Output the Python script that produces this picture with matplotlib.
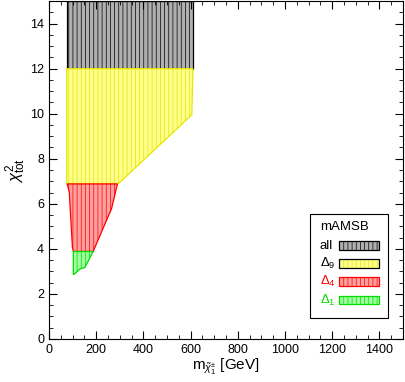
import matplotlib.pyplot as plt
from matplotlib.patches import Polygon, Rectangle
from matplotlib.ticker import MultipleLocator

plt.rcParams['font.family'] = ['Liberation Sans', 'DejaVu Sans']
plt.rcParams['mathtext.fontset'] = 'custom'
plt.rcParams['mathtext.rm'] = 'Liberation Sans'
plt.rcParams['mathtext.it'] = 'Liberation Sans:italic'
plt.rcParams['hatch.linewidth'] = 0.5

# region boundaries (chargino mass [GeV], chi2_tot)
all_x = [75, 610, 610, 75]
all_y = [12.0, 12.0, 15.0, 15.0]

d9_x = [75, 295, 605, 610, 75]
d9_y = [6.9, 6.9, 9.95, 12.0, 12.0]

d4_x = [77, 290, 265, 187, 103, 99, 86, 77]
d4_y = [6.88, 6.88, 5.78, 3.88, 3.88, 4.1, 6.5, 6.88]

d1_x = [103, 187, 152, 131, 110, 103]
d1_y = [3.88, 3.88, 3.17, 3.1, 2.9, 2.85]

regions = [
    ("all", all_x, all_y, "black", "#b0b0b0", "black"),
    (r"$\Delta_9$", d9_x, d9_y, "#e6e600", "#ffff90", "black"),
    (r"$\Delta_4$", d4_x, d4_y, "red", "#ffa0a0", "red"),
    (r"$\Delta_1$", d1_x, d1_y, "#00dd00", "#a0ffa0", "#00dd00"),
]

fig = plt.figure(figsize=(4.05, 3.82), dpi=100)
ax = fig.add_axes([0.121, 0.113, 0.874, 0.884])

for name, xs, ys, edge, face, tcol in regions:
    pts = list(zip(xs, ys))
    ax.add_patch(Polygon(pts, closed=True, facecolor=face, edgecolor="none"))
    ax.add_patch(Polygon(pts, closed=True, facecolor="none", edgecolor=edge,
                         hatch="||||", linewidth=0))
    ax.add_patch(Polygon(pts, closed=True, facecolor="none", edgecolor=edge,
                         linewidth=0.9))

ax.set_xlim(0, 1500)
ax.set_ylim(0, 15)
ax.xaxis.set_major_locator(MultipleLocator(200))
ax.xaxis.set_minor_locator(MultipleLocator(50))
ax.yaxis.set_major_locator(MultipleLocator(2))
ax.yaxis.set_minor_locator(MultipleLocator(0.5))
ax.tick_params(which="both", direction="in", top=True, right=True, labelsize=9)
ax.tick_params(which="major", length=6)
ax.tick_params(which="minor", length=3)
ax.set_xticks(range(0, 1500, 200))

ax.set_xlabel(r"m$_{\tilde{\chi}^{\pm}_1}$ [GeV]", fontsize=11, labelpad=1)
ax.set_ylabel(r"$\chi^2_{\rm tot}$", fontsize=12)
ax.yaxis.set_label_coords(-0.06, 0.5)

# legend box drawn by hand
ax.add_patch(Rectangle((0.738, 0.063), 0.22, 0.307, transform=ax.transAxes,
                       facecolor="white", edgecolor="black", linewidth=0.8))
ax.text(0.765, 0.33, "mAMSB", transform=ax.transAxes, fontsize=9.5, va="center")
rows_y = [0.276, 0.222, 0.17, 0.115]
for (name, xs, ys, edge, face, tcol), ry in zip(regions, rows_y):
    ax.text(0.765, ry, name, transform=ax.transAxes, fontsize=9.5,
            va="center", color=tcol)
    ax.add_patch(Rectangle((0.82, ry - 0.013), 0.113, 0.026, transform=ax.transAxes,
                           facecolor=face, edgecolor="none"))
    ax.add_patch(Rectangle((0.82, ry - 0.013), 0.113, 0.026, transform=ax.transAxes,
                           facecolor="none", edgecolor=edge, hatch="||||", linewidth=0))
    ax.add_patch(Rectangle((0.82, ry - 0.013), 0.113, 0.026, transform=ax.transAxes,
                           facecolor="none", edgecolor=tcol if name != "all" else "black",
                           linewidth=0.9))

fig.savefig("out.png", dpi=100)
